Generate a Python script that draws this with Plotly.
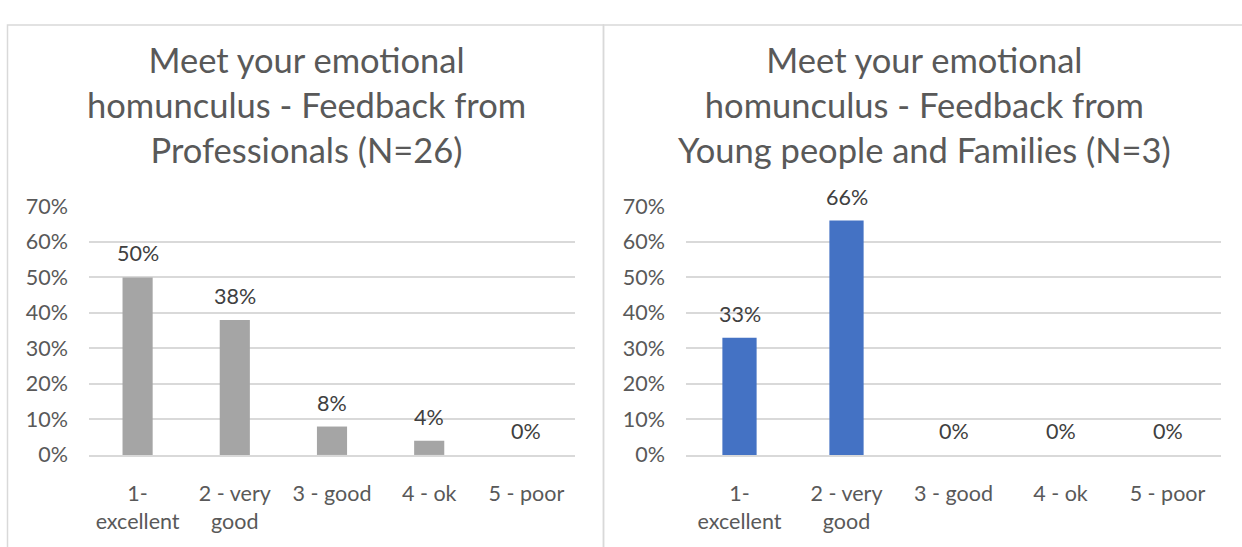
import plotly.graph_objects as go

categories = ["1-<br>excellent", "2 - very<br>good", "3 - good", "4 - ok", "5 - poor"]
professionals = [0.50, 0.38, 0.08, 0.04, 0.00]
young_families = [0.33, 0.66, 0.00, 0.00, 0.00]
prof_labels = ["50%", "38%", "8%", "4%", "0%"]
yf_labels = ["33%", "66%", "0%", "0%", "0%"]
titles = [
    "Meet your emotional<br>homunculus - Feedback from<br>Professionals (N=26)",
    "Meet your emotional<br>homunculus - Feedback from<br>Young people and Families (N=3)",
]

W, H = 1242, 547
FONT = "Lato"
TXT = "#595959"
LBL = "#404040"
GRID = "#d9d9d9"
FS = 21.5

fig = go.Figure()
fig.add_trace(go.Bar(x=categories, y=professionals, marker_color="#a5a5a5", marker_line_width=0,
                     width=0.31, xaxis="x", yaxis="y", showlegend=False, hoverinfo="x+y"))
fig.add_trace(go.Bar(x=categories, y=young_families, marker_color="#4472c4", marker_line_width=0,
                     width=0.32, xaxis="x2", yaxis="y2", showlegend=False, hoverinfo="x+y"))

# data labels
for xr, yr, vals, labels in [("x", "y", professionals, prof_labels),
                             ("x2", "y2", young_families, yf_labels)]:
    for c, v, t in zip(categories, vals, labels):
        fig.add_annotation(x=c, y=v, xref=xr, yref=yr, text=t, showarrow=False,
                           yanchor="bottom", yshift=9,
                           font=dict(size=FS, color=LBL, family=FONT))

def px(x): return x / W
def py(y): return 1 - y / H

yax = dict(range=[0, 0.7], dtick=0.1, tickformat=".0%", showgrid=True, gridcolor=GRID,
           gridwidth=1.5, zeroline=False, showline=False, ticks="",
           tickfont=dict(size=FS, color=TXT, family=FONT), ticklabelstandoff=20)
xax = dict(showgrid=False, showline=True, linecolor=GRID, linewidth=1.5, ticks="",
           tickfont=dict(size=FS, color=TXT, family=FONT), tickangle=0, ticklabelstandoff=19)

fig.update_layout(
    width=W, height=H, margin=dict(l=0, r=0, t=0, b=0),
    paper_bgcolor="white", plot_bgcolor="white",
    xaxis=dict(domain=[px(89), px(575)], anchor="y", **xax),
    yaxis=dict(domain=[py(464), py(203)], anchor="x", **yax),
    xaxis2=dict(domain=[px(686), px(1221)], anchor="y2", **xax),
    yaxis2=dict(domain=[py(464), py(203)], anchor="x2", **yax),
)

for i, (t, cx) in enumerate(zip(titles, [306, 924])):
    fig.add_annotation(text=t, x=px(cx), y=py(25), xref="paper", yref="paper",
                       xanchor="center", yanchor="top", showarrow=False,
                       font=dict(size=34.5, color=TXT, family=FONT), align="center")

# panel borders
fig.add_shape(type="rect", xref="paper", yref="paper", x0=px(7.5), x1=px(603.5), y0=-0.05, y1=py(12.5),
              line=dict(color=GRID, width=1.5), fillcolor="rgba(0,0,0,0)", layer="below")
fig.add_shape(type="rect", xref="paper", yref="paper", x0=px(603.5), x1=1.05, y0=-0.05, y1=py(12.5),
              line=dict(color=GRID, width=1.5), fillcolor="rgba(0,0,0,0)", layer="below")

fig.write_html("out.html", post_script="document.body.style.margin='0';document.body.style.overflow='hidden';",
               config={"displayModeBar": False})
